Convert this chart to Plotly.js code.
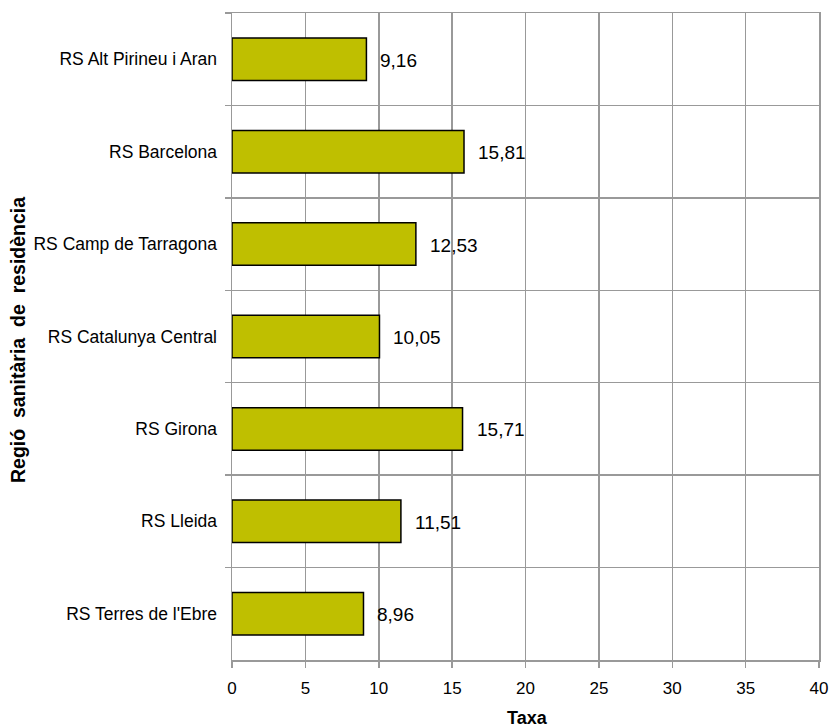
<!DOCTYPE html>
<html><head><meta charset="utf-8">
<script src="https://cdn.plot.ly/plotly-3.0.1.min.js"></script>
<style>body{margin:0;background:#fff}#c{width:834px;height:727px}</style>
</head><body><div id="c"></div>
<script>
const categories = ["RS Alt Pirineu i Aran","RS Barcelona","RS Camp de Tarragona","RS Catalunya Central","RS Girona","RS Lleida","RS Terres de l'Ebre"];
const values = [9.16, 15.81, 12.53, 10.05, 15.71, 11.51, 8.96];
const xTicks = [0,5,10,15,20,25,30,35,40];
const fmt = v => v.toFixed(2).replace('.', ',');
const FONT = 'Liberation Sans, Arial';
const gap = ' &nbsp;';

const annotations = categories.map((c,i)=>({
  x: values[i], y: c, xref:'x', yref:'y', text: fmt(values[i]),
  showarrow:false, xanchor:'left', xshift:12, yshift:-1,
  font:{family:FONT, size:19, color:'#000'}
}));
annotations.push({
  xref:'paper', yref:'paper', x:(18-232)/587, y:(660-340)/647, textangle:-90,
  text:'<b>Regió' + gap + 'sanitària' + gap + 'de' + gap + 'residència</b>', showarrow:false,
  xanchor:'center', yanchor:'middle',
  font:{family:FONT, size:19.5, color:'#000'}
});
annotations.push({
  xref:'paper', yref:'paper', x:(527-232)/587, y:-(718-660)/647,
  text:'<b>Taxa</b>', showarrow:false, xanchor:'center', yanchor:'middle',
  font:{family:FONT, size:18, color:'#000'}
});

Plotly.newPlot('c', [{
  type:'bar', orientation:'h', x: values, y: categories, width:0.46,
  marker:{color:'#BFBF00', line:{color:'#000', width:1.5}},
  hoverinfo:'none'
}], {
  width:834, height:727, margin:{l:232, r:15, t:13, b:67},
  paper_bgcolor:'#fff', plot_bgcolor:'#fff', showlegend:false,
  xaxis:{range:[0,40], tickvals:xTicks, ticktext:xTicks.map(String),
    showgrid:true, gridcolor:'#999', gridwidth:1.5, zeroline:false,
    showline:true, linecolor:'#999', linewidth:1.5, mirror:true,
    ticks:'outside', ticklen:6, tickcolor:'#999', tickwidth:1.5,
    ticklabelstandoff:6,
    tickfont:{family:FONT, size:17, color:'#000'},
    fixedrange:true},
  yaxis:{type:'category', autorange:'reversed', tickson:'boundaries',
    showgrid:true, gridcolor:'#999', gridwidth:1.5,
    showline:true, linecolor:'#999', linewidth:1.5, mirror:true,
    ticks:'outside', ticklen:6, tickcolor:'#999', tickwidth:1.5,
    ticklabelstandoff:10,
    tickfont:{family:FONT, size:17.5, color:'#000'},
    fixedrange:true},
  annotations: annotations
}, {displayModeBar:false, staticPlot:true});
</script></body></html>
